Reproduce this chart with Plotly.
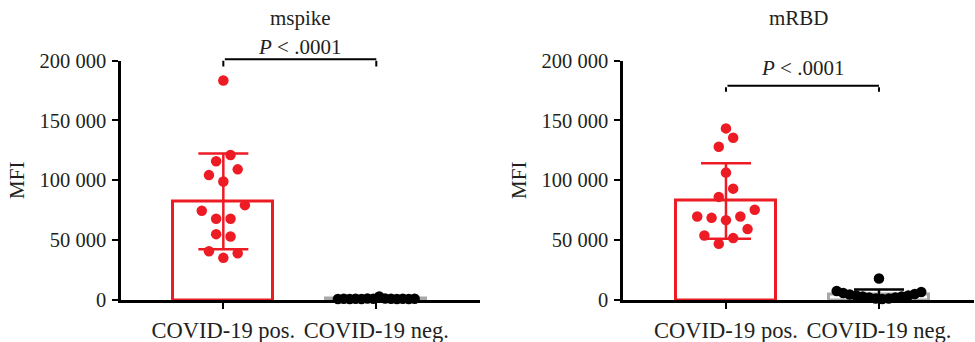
import plotly.graph_objects as go

# ---------------- data ----------------
categories = ["COVID-19 pos.", "COVID-19 neg."]
y_ticks = [0, 50000, 100000, 150000, 200000]
y_ticktext = ["0", "50 000", "100 000", "150 000", "200 000"]
panel_titles = ["mspike", "mRBD"]
p_text = "<i>P</i> &lt; .0001"

spike_pos = [183300, 121100, 115800, 109100, 104300, 99000, 79200, 74500,
             67800, 67800, 55000, 53000, 40700, 39100, 35200]
spike_neg = [900, 1000, 800, 1100, 900, 1200, 1000, 3000, 1300, 1000, 900, 1100, 800, 1000]
spike_mean = [82300, 1200]
spike_sd = [40000, 600]

rbd_pos = [143300, 135500, 128000, 106400, 93000, 86100, 75300, 69700,
           68600, 66700, 69700, 59200, 53900, 51700, 46900]
rbd_neg = [7500, 5800, 4600, 3700, 2900, 2100, 1200, 800, 1200, 2100, 2900,
           3700, 5000, 6700, 18000]
rbd_mean = [82700, 4500]
rbd_sd = [31500, 4300]

# significance brackets: (bracket level, tick end, label level)
spike_bracket = [201000, 195000, 211000]
rbd_bracket = [179000, 174000, 193500]

# swarm slot indices (dot arrangement)
spike_pos_slot = [0, 1, -1, 2, -2, 0, 3, -3, -1, 1, -1, 1, -2, 2, 0]
spike_neg_slot = [-6.5, -5.5, -4.5, -3.5, -2.5, -1.5, -0.5, 0.5, 1.5, 2.5, 3.5, 4.5, 5.5, 6.5]
rbd_pos_slot = [0, 1, -1, 0, 1, -1, 4, -4, -2, 0, 2, 3, -3, 1, -1]
rbd_neg_slot = [-6.5, -5.5, -4.5, -3.5, -2.5, -1.5, -0.5, 0.5, 1.5, 2.5, 3.5, 4.5, 5.5, 6.5, 0]

# ---------------- style ----------------
RED = "#ED1C24"
GRAY = "#A8A8A8"
BLACK = "#000000"
TXT = "#231F20"
FONT = "Liberation Serif"
FS = 21
FS_X = 22.5
FS_Y = 20.5
BAR_W = 0.654
POS_SLOT = 0.047
SPIKE_NEG_SLOT = 0.0386
RBD_NEG_SLOT = 0.0425
Y_MAX = 200000
Y_DOM = [42 / 342, (342 - 60.5) / 342]

fig = go.Figure()


def add_panel(xa, ya, pos, neg, pos_slot, neg_slot, neg_slot_w, mean, sd):
    colors_line = [RED, GRAY]
    colors_err = [RED, BLACK]
    for i in range(2):
        fig.add_trace(go.Bar(
            x=[i], y=[mean[i]], width=BAR_W, xaxis=xa, yaxis=ya,
            marker=dict(color="rgba(255,255,255,0)",
                        line=dict(color=colors_line[i], width=3)),
            error_y=dict(type="data", array=[sd[i]], color=colors_err[i],
                         thickness=2.5, width=25),
            showlegend=False, hoverinfo="skip"))
    fig.add_trace(go.Scatter(
        x=[0 + s * POS_SLOT for s in pos_slot], y=pos, mode="markers",
        xaxis=xa, yaxis=ya, cliponaxis=False,
        marker=dict(color=RED, size=10.5, line=dict(width=0)), showlegend=False))
    fig.add_trace(go.Scatter(
        x=[1 + s * neg_slot_w for s in neg_slot], y=neg, mode="markers",
        xaxis=xa, yaxis=ya, cliponaxis=False,
        marker=dict(color=BLACK, size=10.5, line=dict(width=0)), showlegend=False))


add_panel("x", "y", spike_pos, spike_neg, spike_pos_slot, spike_neg_slot,
          SPIKE_NEG_SLOT, spike_mean, spike_sd)
add_panel("x2", "y2", rbd_pos, rbd_neg, rbd_pos_slot, rbd_neg_slot,
          RBD_NEG_SLOT, rbd_mean, rbd_sd)

axis_common = dict(showline=True, linecolor=BLACK, linewidth=2.5, ticks="outside",
                   ticklen=6, tickwidth=2, tickcolor=BLACK, showgrid=False,
                   zeroline=False, automargin=False)
xfont = dict(family=FONT, size=FS_X, color=TXT)
yfont = dict(family=FONT, size=FS_Y, color=TXT)
ytitle = dict(text="MFI", standoff=10, font=dict(family=FONT, size=FS, color=TXT))

fig.update_layout(
    width=975, height=342, margin=dict(l=0, r=0, t=0, b=0, autoexpand=False),
    paper_bgcolor="white", plot_bgcolor="white", bargap=0,
    font=dict(family=FONT, size=FS, color=TXT),
    xaxis=dict(domain=[121 / 975, 480 / 975], range=[-0.669, 1.678], anchor="y",
               tickvals=[0, 1], ticktext=categories, ticklabelstandoff=2,
               tickfont=xfont, **axis_common),
    xaxis2=dict(domain=[623 / 975, 974 / 975], range=[-0.673, 1.621], anchor="y2",
                tickvals=[0, 1], ticktext=categories, ticklabelstandoff=2,
                tickfont=xfont, **axis_common),
    yaxis=dict(domain=Y_DOM, range=[0, Y_MAX], anchor="x", tickvals=y_ticks,
               ticktext=y_ticktext, ticklabelstandoff=2, tickfont=yfont,
               title=ytitle, **axis_common),
    yaxis2=dict(domain=Y_DOM, range=[0, Y_MAX], anchor="x2", tickvals=y_ticks,
                ticktext=y_ticktext, ticklabelstandoff=2, tickfont=yfont,
                title=ytitle, **axis_common),
)

annotations = []
for xc, t in zip([(121 + 480) / 2 / 975, (623 + 974) / 2 / 975], panel_titles):
    annotations.append(dict(text=t, x=xc, y=1 - 18 / 342, xref="paper", yref="paper",
                            showarrow=False, xanchor="center", yanchor="middle",
                            font=dict(family=FONT, size=FS, color=TXT)))

for xr, yr, (yb, yt, ytxt) in [("x", "y domain", spike_bracket),
                               ("x2", "y2 domain", rbd_bracket)]:
    segs = [((0, yb), (1, yb)), ((0, yb), (0, yt)), ((1, yb), (1, yt))]
    for (x0, y0), (x1, y1) in segs:
        annotations.append(dict(x=x1, y=y1 / Y_MAX, ax=x0, ay=y0 / Y_MAX,
                                xref=xr, yref=yr, axref=xr, ayref=yr,
                                text="", showarrow=True, arrowhead=0, arrowwidth=2,
                                arrowcolor=BLACK, standoff=0, startstandoff=0))
    annotations.append(dict(text=p_text, x=0.5, y=ytxt / Y_MAX, xref=xr, yref=yr,
                            showarrow=False, xanchor="center", yanchor="middle",
                            font=dict(family=FONT, size=FS, color=TXT)))

fig.update_layout(annotations=annotations)
fig.write_html("out.html", config={"displayModeBar": False},
               post_script="document.body.style.margin='0';"
                           "document.body.style.overflow='hidden';")
